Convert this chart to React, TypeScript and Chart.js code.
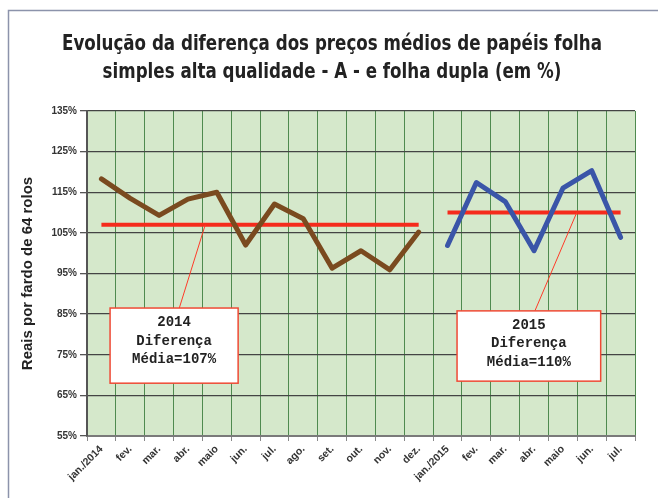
import React, { useEffect, useRef } from "react";
import { Chart, registerables } from "chart.js";

Chart.register(...registerables);

// ---------- data ----------
const months = [
  "jan./2014", "fev.", "mar.", "abr.", "maio", "jun.", "jul.", "ago.", "set.", "out.", "nov.", "dez.",
  "jan./2015", "fev.", "mar.", "abr.", "maio", "jun.", "jul.",
];
const diff2014 = [118.3, 113.5, 109.3, 113.3, 115.0, 102.0, 112.1, 108.5, 96.3, 100.6, 95.9, 105.2];
const diff2015 = [101.9, 117.4, 112.7, 100.6, 116.0, 120.3, 103.9];
const avg2014 = 107;
const avg2015 = 110;
const yMin = 55;
const yMax = 135;
const yStep = 10;
const titleLines = [
  "Evolução da diferença dos preços médios de papéis folha",
  "simples alta qualidade - A - e folha dupla (em %)",
];
const yTitle = "Reais por fardo de 64 rolos";
const note2014 = ["2014", "Diferença", "Média=107%"];
const note2015 = ["2015", "Diferença", "Média=110%"];

// ---------- helpers ----------
const n14 = diff2014.length;
const total = months.length;
const series2014 = months.map((_, i) => (i < n14 ? diff2014[i] : null));
const series2015 = months.map((_, i) => (i >= n14 ? diff2015[i - n14] : null));
const mean2014 = months.map((_, i) => (i < n14 ? avg2014 : null));
const mean2015 = months.map((_, i) => (i >= n14 ? avg2015 : null));

// annotation geometry (data coordinates: category index / value)
const notes = [
  { lines: note2014, x0: 0.3, x1: 4.74, yTop: 86.5, yBot: 68, from: [3.6, avg2014], to: [2.7, 86.5] },
  { lines: note2015, x0: 12.33, x1: 17.31, yTop: 85.8, yBot: 68.5, from: [16.48, avg2015], to: [15.03, 85.8] },
];

const bgPlugin = {
  id: "bgPlugin",
  beforeDraw(chart: any) {
    const { ctx, chartArea } = chart;
    ctx.save();
    ctx.fillStyle = "#d5e8cb";
    ctx.fillRect(chartArea.left, chartArea.top, chartArea.right - chartArea.left, chartArea.bottom - chartArea.top);
    // card frame
    ctx.strokeStyle = "#8c93ab";
    ctx.lineWidth = 1.5;
    ctx.beginPath();
    ctx.moveTo(8.5, 498);
    ctx.lineTo(8.5, 10.5);
    ctx.lineTo(658, 10.5);
    ctx.stroke();
    ctx.restore();
  },
};

// condensed title (the reference uses a tall, narrow face)
const titlePlugin = {
  id: "titlePlugin",
  afterDraw(chart: any) {
    const { ctx } = chart;
    ctx.save();
    ctx.font = "bold 22px 'DejaVu Sans Condensed', 'Liberation Sans', sans-serif";
    ctx.fillStyle = "#222222";
    ctx.textAlign = "center";
    ctx.textBaseline = "alphabetic";
    const w = ctx.measureText(titleLines[0]).width;
    const sx = 540 / w;
    const cx = 332;
    titleLines.forEach((line, i) => {
      ctx.save();
      ctx.translate(cx, 50 + i * 28);
      ctx.scale(sx, 1);
      ctx.fillText(line, 0, 0);
      ctx.restore();
    });
    ctx.restore();
  },
};

const notePlugin = {
  id: "notePlugin",
  afterDatasetsDraw(chart: any) {
    const { ctx } = chart;
    const xs = chart.scales.x;
    const ys = chart.scales.y;
    ctx.save();
    for (const n of notes) {
      // leader
      ctx.strokeStyle = "#ff3b28";
      ctx.lineWidth = 1;
      ctx.beginPath();
      ctx.moveTo(xs.getPixelForValue(n.from[0]), ys.getPixelForValue(n.from[1]));
      ctx.lineTo(xs.getPixelForValue(n.to[0]), ys.getPixelForValue(n.to[1]));
      ctx.stroke();
      // box
      const l = xs.getPixelForValue(n.x0);
      const r = xs.getPixelForValue(n.x1);
      const t = ys.getPixelForValue(n.yTop);
      const b = ys.getPixelForValue(n.yBot);
      ctx.fillStyle = "#ffffff";
      ctx.fillRect(l, t, r - l, b - t);
      ctx.strokeStyle = "#ef4a35";
      ctx.lineWidth = 1.5;
      ctx.strokeRect(l, t, r - l, b - t);
      ctx.fillStyle = "#222222";
      ctx.font = "bold 14px 'Liberation Mono', 'DejaVu Sans Mono', monospace";
      ctx.textAlign = "center";
      ctx.textBaseline = "middle";
      const cx = (l + r) / 2;
      n.lines.forEach((line, i) => {
        ctx.fillText(line, cx, t + 14.5 + i * 18.5);
      });
    }
    ctx.restore();
  },
};

export default function App() {
  const ref = useRef<HTMLCanvasElement | null>(null);

  useEffect(() => {
    if (!ref.current) return;
    const chart = new Chart(ref.current, {
      type: "line",
      data: {
        labels: months,
        datasets: [
          { data: series2014, borderColor: "#7a4a1f", borderWidth: 5, pointRadius: 0, spanGaps: false, tension: 0, borderJoinStyle: "round", borderCapStyle: "round" } as any,
          { data: series2015, borderColor: "#3a55a8", borderWidth: 5, pointRadius: 0, spanGaps: false, tension: 0, borderJoinStyle: "round", borderCapStyle: "round" } as any,
          { data: mean2014, borderColor: "#f52b1c", borderWidth: 4, pointRadius: 0, spanGaps: false } as any,
          { data: mean2015, borderColor: "#f52b1c", borderWidth: 4, pointRadius: 0, spanGaps: false } as any,
        ],
      },
      options: {
        responsive: false,
        animation: false,
        devicePixelRatio: 1,
        layout: { padding: { left: 8, right: 23, top: 111, bottom: 0 } },
        plugins: {
          legend: { display: false },
          tooltip: { enabled: false },
          title: { display: false },
        },
        scales: {
          x: {
            type: "category",
            offset: true,
            grid: {
              offset: true,
              color: (c: any) => (c.index === total ? "#9a9a9a" : "#4f8a4f"),
              lineWidth: 1,
              tickLength: 5,
              tickColor: "#888888",
            },
            border: { color: "#7a7a7a", width: 2 },
            ticks: {
              autoSkip: false,
              minRotation: 45,
              maxRotation: 45,
              padding: 2,
              color: "#333333",
              font: { family: "'Liberation Sans', Arial, sans-serif", size: 10.5, weight: "bold" },
            },
            afterFit: (s: any) => {
              s.height = 62;
            },
          },
          y: {
            min: yMin,
            max: yMax,
            ticks: {
              stepSize: yStep,
              padding: 3,
              color: "#333333",
              font: { family: "'Liberation Sans', Arial, sans-serif", size: 10, weight: "bold" },
              callback: (v: any) => v + "%",
            },
            grid: { color: "#444444", lineWidth: 1.3, tickLength: 7, tickColor: "#555555" },
            border: { color: "#555555", width: 2 },
            title: {
              display: true,
              text: yTitle,
              color: "#222222",
              font: { family: "'Liberation Sans', Arial, sans-serif", size: 15, weight: "bold", lineHeight: 1.2 },
              padding: { top: 11, bottom: 0 },
            },
            afterFit: (s: any) => {
              s.width = 79;
            },
          },
        },
      } as any,
      plugins: [bgPlugin, notePlugin, titlePlugin],
    });
    return () => chart.destroy();
  }, []);

  return (
    <div style={{ position: "absolute", left: 0, top: 0, width: 658, height: 498, background: "#ffffff" }}>
      <canvas ref={ref} width={658} height={498} style={{ width: 658, height: 498, display: "block" }} />
    </div>
  );
}
